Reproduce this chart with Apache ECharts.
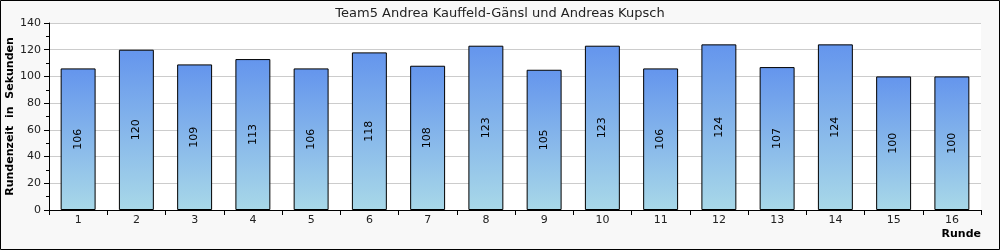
<!DOCTYPE html>
<html><head><meta charset="utf-8">
<script src="https://cdn.jsdelivr.net/npm/echarts@6/dist/echarts.min.js"></script>
<style>html,body{margin:0;padding:0;}#c{width:1000px;height:250px;}</style>
</head><body><div id="c"></div>
<script>
const title = "Team5 Andrea Kauffeld-Gänsl und Andreas Kupsch";
const categories = ["1","2","3","4","5","6","7","8","9","10","11","12","13","14","15","16"];
const values = [106,120,109,113,106,118,108,123,105,123,106,124,107,124,100,100];
const yTicks = {min:0, max:140, interval:20};
const font = "DejaVu Sans";
const chart = echarts.init(document.getElementById('c'));
chart.setOption({
  animation:false,
  backgroundColor:'#f8f8f8',
  textStyle:{fontFamily:font},
  title:{text:title, left:'center', top:2, textStyle:{fontFamily:font, fontSize:13, fontWeight:'normal', color:'#222'}},
  graphic:[{type:'rect', shape:{x:0.5,y:0.5,width:999,height:249}, style:{fill:'none', stroke:'#000', lineWidth:1}, silent:true}],
  grid:{left:49, right:19, top:23, bottom:40, show:true, backgroundColor:'#fff', borderWidth:0, containLabel:false, outerBoundsMode:'none'},
  xAxis:{type:'category', data:categories, boundaryGap:true,
    name:'Runde', nameLocation:'end', nameGap:0, nameMoveOverlap:false,
    nameTextStyle:{fontFamily:font, fontWeight:'bold', fontSize:11, color:'#000', align:'right', verticalAlign:'top', padding:[19,0,0,0]},
    axisLine:{lineStyle:{color:'#000'}},
    axisTick:{show:true, inside:false, length:5, lineStyle:{color:'#000'}, alignWithLabel:false},
    axisLabel:{color:'#222', fontSize:11, margin:5}},
  yAxis:{type:'value', min:yTicks.min, max:yTicks.max, interval:yTicks.interval,
    name:'Rundenzeit  in  Sekunden', nameLocation:'middle', nameGap:33, nameRotate:90, nameMoveOverlap:false,
    nameTextStyle:{fontFamily:font, fontWeight:'bold', fontSize:11, color:'#000'},
    axisLine:{show:true, lineStyle:{color:'#000'}},
    axisTick:{show:true, length:5, lineStyle:{color:'#000'}},
    minorTick:{show:true, splitNumber:2, length:3, lineStyle:{color:'#000'}},
    splitLine:{show:true, lineStyle:{color:'#ccc'}},
    axisLabel:{color:'#222', fontSize:11, margin:8}},
  series:[{type:'bar', data:values, barWidth:'60%',
    itemStyle:{borderColor:'#000', borderWidth:1,
      color:new echarts.graphic.LinearGradient(0,0,0,1,[{offset:0,color:'#6495ed'},{offset:1,color:'#a8d8e8'}])},
    label:{show:true, position:'inside', rotate:90, fontSize:11, color:'#000', fontFamily:font}
  }]
});
</script></body></html>
